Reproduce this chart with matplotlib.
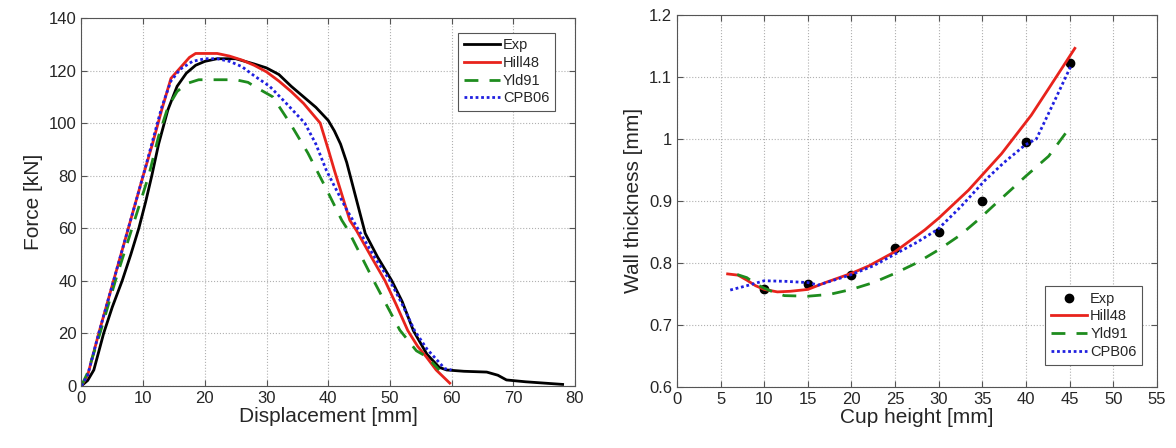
import matplotlib
matplotlib.use("Agg")
import matplotlib.pyplot as plt

plt.rcParams['font.family'] = ['Liberation Sans', 'DejaVu Sans']

# left panel: punch force vs displacement
exp_x = [0, 1, 2, 3.6, 5, 6.6, 8, 9.3, 10.4, 11.4, 12.5, 14, 15.5, 17, 18.5, 20, 22, 25, 28, 30,
         32, 34, 36, 38, 40, 41, 42, 43, 44, 45, 46, 48, 50.3, 52, 53.8, 56, 58, 59.2,
         62, 65.7, 67.5, 68.9, 72, 75, 78]
exp_f = [0, 2, 6, 20, 30, 40, 50, 60, 70, 80, 92, 105, 114, 119, 122, 123.5, 124.5, 124.5, 122.5, 121,
         118.5, 114, 110, 106, 101, 97, 92, 85, 76, 67, 58, 49, 40, 32, 21, 12, 7, 6,
         5.5, 5.2, 4, 2.2, 1.5, 1, 0.5]

hill_x = [0, 1, 2.8, 4, 5.2, 6.4, 7.6, 8.8, 10, 11.5, 13, 14.5, 16, 17.5, 18.5, 22, 24, 26, 28, 30,
          32, 34, 36, 38.7, 40, 41, 43.5, 44.6, 47, 49.2, 51, 52.9, 54.5, 55.9, 57.5, 59.7]
hill_f = [0, 4, 20, 30, 40, 50, 60, 70, 80, 92, 105, 117, 121, 125, 126.5, 126.5, 125.5, 124, 122, 119.5,
          116, 112, 107.5, 100, 90, 82, 63, 59, 49, 40, 31, 21, 15, 11, 6, 1]

yld_x = [0, 1, 3, 5.5, 8.2, 10.9, 12.5, 14, 15.5, 17, 19, 25, 27, 28, 31, 33.8, 36.7, 39.5,
         42.2, 43.2, 47.3, 51.6, 54.3, 56, 58]
yld_f = [0, 5, 20, 40, 60, 80, 95, 106, 112, 115, 116.5, 116.5, 115.5, 114, 110, 100, 88.6, 75.8,
         63, 59.3, 40.3, 21.2, 13.3, 11, 6]

cpb_x = [0, 1, 2.8, 5.2, 7.6, 10, 11.5, 13, 14.5, 16, 18, 20, 22, 24, 26, 28, 30.5, 33, 36.2, 38,
         39.7, 41, 43, 45, 47.5, 50, 52, 54, 56, 58.9, 60]
cpb_f = [0, 4, 20, 40, 60, 80, 93, 106, 116, 120.5, 123.5, 124.5, 124.5, 123.5, 121.5, 118, 114, 108, 100, 92,
         82, 76, 67, 59, 49, 40, 31, 21, 14, 6.5, 6]

# right panel: wall thickness vs cup height
exp_h = [10, 15, 20, 25, 30, 35, 40, 45]
exp_t = [0.758, 0.765, 0.78, 0.824, 0.85, 0.9, 0.995, 1.122]

hill_h = [5.8, 7, 8, 9, 10, 11.5, 13, 15, 17, 20, 22, 25, 28.4, 30, 33.4, 37.2, 40.6, 42.6, 45.6]
hill_t = [0.782, 0.78, 0.772, 0.763, 0.757, 0.753, 0.754, 0.757, 0.768, 0.783, 0.795, 0.818,
          0.853, 0.872, 0.917, 0.976, 1.038, 1.081, 1.146]
yld_h = [6.9, 8, 9, 10, 11, 12.3, 15, 17.5, 20, 22.5, 25, 27.5, 30, 32.5, 34.5, 36.5, 38.3, 40, 42.6, 44.7]
yld_t = [0.781, 0.776, 0.766, 0.759, 0.753, 0.747, 0.746, 0.749, 0.757, 0.768, 0.783, 0.8, 0.821,
         0.845, 0.869, 0.895, 0.918, 0.94, 0.972, 1.012]
cpb_h = [6.1, 8, 10, 12.5, 15, 16.2, 18, 20, 22.5, 25, 27.5, 29.9, 32.5, 35.3, 37.5, 39.9, 41.2, 43.3, 45.2]
cpb_t = [0.756, 0.763, 0.771, 0.77, 0.768, 0.764, 0.772, 0.781, 0.795, 0.814, 0.833, 0.854, 0.89,
         0.933, 0.962, 0.99, 1.0, 1.062, 1.119]

RED = '#e8231c'
GREEN = '#1e8c1e'
BLUE = '#2020e0'
TXT = '#262626'

fig = plt.figure(figsize=(11.76, 4.48), dpi=100)
ax1 = fig.add_axes([0.0693, 0.139, 0.4196, 0.8208])
ax2 = fig.add_axes([0.5757, 0.1368, 0.408, 0.830])


def style(ax):
    ax.grid(True, linestyle=':', color='#b0b0b0', linewidth=0.8)
    ax.tick_params(direction='in', labelsize=12, color='#555555', labelcolor=TXT,
                   length=4, top=True, right=True)
    for s in ax.spines.values():
        s.set_color('#555555')
        s.set_linewidth(0.8)


def legend(ax, loc, anchor):
    leg = ax.legend(loc=loc, fontsize=10.5, fancybox=False, edgecolor='#555555',
                    handlelength=2.5, handletextpad=0.2, borderpad=0.4, labelspacing=0.25,
                    framealpha=1, bbox_to_anchor=anchor)
    leg.get_frame().set_linewidth(0.8)
    for t in leg.get_texts():
        t.set_color(TXT)


ax1.plot(exp_x, exp_f, color='black', lw=2, label='Exp')
ax1.plot(hill_x, hill_f, color=RED, lw=2, label='Hill48')
ax1.plot(yld_x, yld_f, color=GREEN, lw=2, ls=(0, (5, 4)), label='Yld91')
ax1.plot(cpb_x, cpb_f, color=BLUE, lw=2, ls=(0, (1, 1)), label='CPB06')
ax1.set_xlim(0, 80)
ax1.set_ylim(0, 140)
ax1.set_xticks(range(0, 81, 10))
ax1.set_yticks(range(0, 141, 20))
ax1.set_xlabel('Displacement [mm]', fontsize=15, labelpad=1, color=TXT)
ax1.set_ylabel('Force [kN]', fontsize=15, labelpad=4, color=TXT)
style(ax1)
legend(ax1, 'upper right', (0.975, 0.98))

ax2.plot(exp_h, exp_t, 'o', color='black', ms=6, label='Exp')
ax2.plot(hill_h, hill_t, color=RED, lw=2, label='Hill48')
ax2.plot(yld_h, yld_t, color=GREEN, lw=2, ls=(0, (5, 4)), label='Yld91')
ax2.plot(cpb_h, cpb_t, color=BLUE, lw=2, ls=(0, (1, 1)), label='CPB06')
ax2.set_xlim(0, 55)
ax2.set_ylim(0.6, 1.2)
ax2.set_xticks(range(0, 56, 5))
ax2.set_yticks([0.6, 0.7, 0.8, 0.9, 1.0, 1.1, 1.2])
ax2.set_yticklabels(['0.6', '0.7', '0.8', '0.9', '1', '1.1', '1.2'])
ax2.set_xlabel('Cup height [mm]', fontsize=15, labelpad=1, color=TXT)
ax2.set_ylabel('Wall thickness [mm]', fontsize=15, labelpad=4, color=TXT)
style(ax2)
legend(ax2, 'lower right', (0.985, 0.04))

fig.savefig('out.png', dpi=100)
